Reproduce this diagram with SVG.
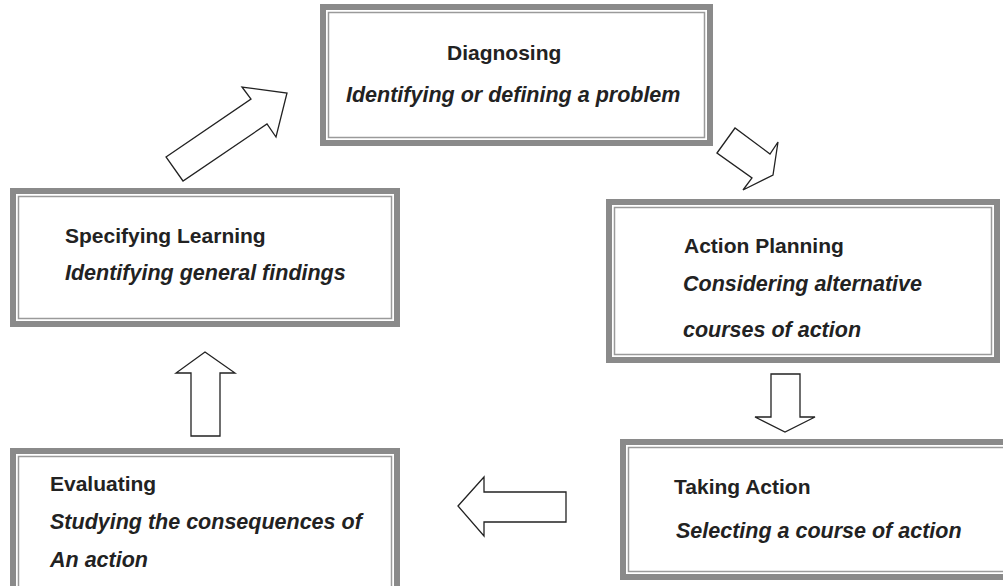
<svg xmlns="http://www.w3.org/2000/svg" width="1003" height="586" viewBox="0 0 1003 586">
<style>
.outer{fill:#fff;stroke:#8a8a8a;stroke-width:6}
.inner{fill:none;stroke:#9a9a9a;stroke-width:1.5}
.t{font-family:"Liberation Sans",Arial,sans-serif;font-weight:bold;font-size:21px;fill:#222}
.s{font-family:"Liberation Sans",Arial,sans-serif;font-weight:bold;font-style:italic;font-size:21.5px;fill:#222}
.arr{fill:#fff;stroke:#222;stroke-width:1.3;stroke-linejoin:miter}
</style>
<rect width="1003" height="586" fill="#fff"/>
<g id="diagnosing">
<rect class="outer" x="323" y="7" width="387" height="136"/>
<rect class="inner" x="328.5" y="12.5" width="376" height="125"/>
<text class="t" x="447" y="60">Diagnosing</text>
<text class="s" x="346" y="102">Identifying or defining a problem</text>
</g>
<g id="action-planning">
<rect class="outer" x="609" y="202" width="388" height="158"/>
<rect class="inner" x="614.5" y="207.5" width="377" height="147"/>
<text class="t" x="684" y="253">Action Planning</text>
<text class="s" x="683" y="291">Considering alternative</text>
<text class="s" x="683" y="337">courses of action</text>
</g>
<g id="taking-action">
<rect class="outer" x="623" y="442" width="390" height="135"/>
<rect class="inner" x="628.5" y="447.5" width="379" height="124"/>
<text class="t" x="674" y="494">Taking Action</text>
<text class="s" x="676" y="538">Selecting a course of action</text>
</g>
<g id="evaluating">
<rect class="outer" x="13" y="451" width="384" height="150"/>
<rect class="inner" x="18.5" y="456.5" width="373" height="140"/>
<text class="t" x="50" y="491">Evaluating</text>
<text class="s" x="50" y="529">Studying the consequences of</text>
<text class="s" x="50" y="567">An action</text>
</g>
<g id="specifying-learning">
<rect class="outer" x="13" y="191" width="384" height="133"/>
<rect class="inner" x="18.5" y="196.5" width="373" height="122"/>
<text class="t" x="65" y="243">Specifying Learning</text>
<text class="s" x="65" y="280">Identifying general findings</text>
</g>
<g id="connectors">
<polygon class="arr" points="717,153 735,128 770,154 778,142 773,175 743,190 752,178"/>
<polygon class="arr" points="771,374 800,374 800,417 815,417 785,432 755,417 771,417"/>
<polygon class="arr" points="458,506 484,477 484,492 566,492 566,522 484,522 484,536"/>
<polygon class="arr" points="205,352 235,373 220,373 220,436 191,436 191,373 176,373"/>
<polygon class="arr" points="166,157 251,99 242,87 287,93 276,137 267,124 183,181"/>
</g>
</svg>
